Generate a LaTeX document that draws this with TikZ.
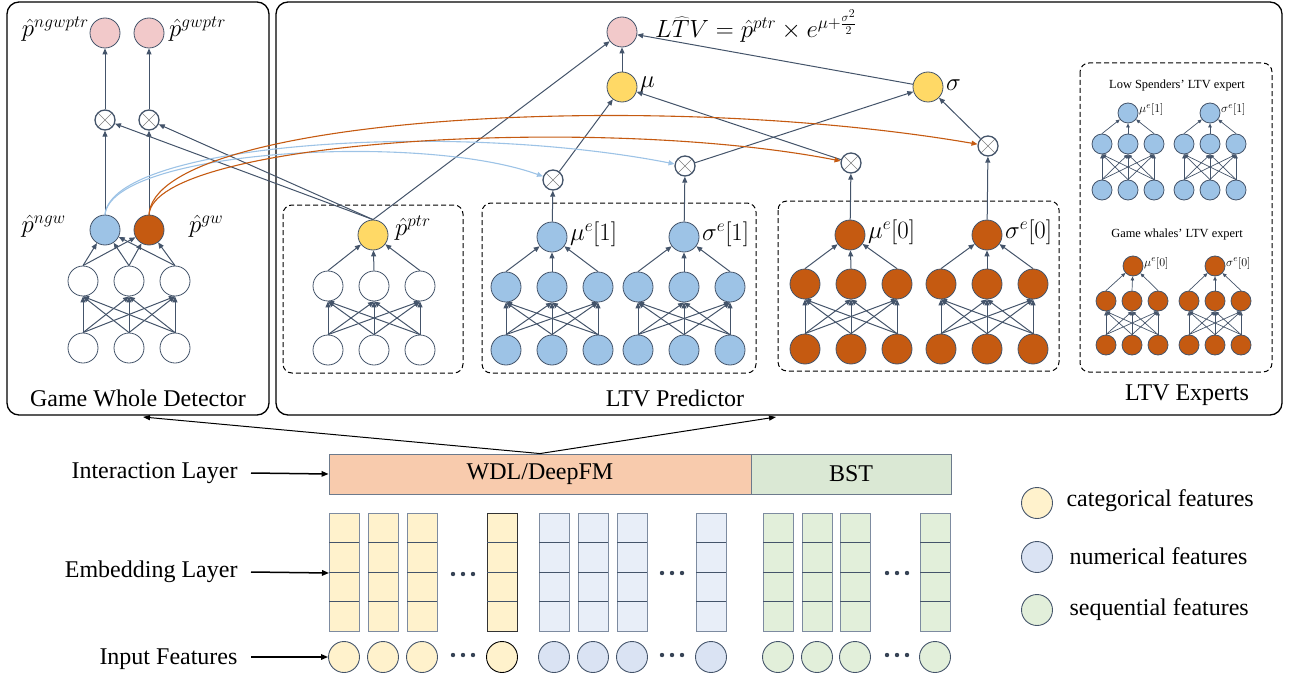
\documentclass[tikz,border=0pt]{standalone}
\usepackage{fontspec}
\setmainfont{Liberation Serif}
\usetikzlibrary{arrows.meta}
\definecolor{edge}{HTML}{44546A}
\definecolor{nblue}{HTML}{9DC3E6}
\definecolor{norange}{HTML}{C55A11}
\definecolor{nyellow}{HTML}{FFD966}
\definecolor{npink}{HTML}{F2C9CA}
\definecolor{catf}{HTML}{FFF2CC}
\definecolor{numf}{HTML}{E8EEF8}
\definecolor{numc}{HTML}{DAE3F3}
\definecolor{seqf}{HTML}{E2EFDA}
\definecolor{ibar}{HTML}{F8CBAD}
\definecolor{gbar}{HTML}{DAE8D4}
\definecolor{colline}{HTML}{7D8BA0}
\definecolor{barline}{HTML}{6C7A8C}

\newcommand\mlpnet[6]{% prefix, cx, hidden y, input y, style, spacing
  \foreach \k/\d in {1/-1,2/0,3/1}{
    \pgfmathsetmacro\xx{#2+\d*#6}
    \node[#5] (#1h\k) at (\xx,#3) {};
    \node[#5] (#1i\k) at (\xx,#4) {};
  }
}
\newcommand\mlpedges[3]{% prefix, output node, arrow style
  \foreach \a in {1,2,3}{
    \draw[#3] (#1h\a.north) -- (#2);
    \foreach \b in {1,2,3}{\draw[#3] (#1i\a.north) -- (#1h\b.south);}
  }
}
\newcommand\embcol[3]{% x left, fill, border
  \draw[draw=#3, line width=0.9pt, fill=#2] (#1,513) rectangle (#1+30,631);
  \foreach \yy in {542.5,572,601.5}{\draw[draw=edge, line width=0.8pt] (#1,\yy) -- (#1+30,\yy);}
}
\newcommand\threedots[2]{%
  \foreach \dd in {-10,0,10}{\fill[edge!80!black] (#1+\dd,#2) circle (2.2pt);}
}

\begin{document}
\begin{tikzpicture}[x=1pt,y=-1pt,
  font=\fontsize{24}{28}\selectfont,
  arr/.style={draw=edge, line width=1pt, -{Triangle[length=6pt,width=5pt]}},
  sarr/.style={draw=edge, line width=0.7pt, -{Triangle[length=4pt,width=3.5pt]}},
  neu/.style={circle, draw=edge, line width=0.8pt, minimum size=30pt, inner sep=0pt},
  whitenode/.style={neu, fill=white},
  bluenode/.style={neu, fill=nblue},
  orangenode/.style={neu, fill=norange},
  yellownode/.style={neu, fill=nyellow},
  pinknode/.style={neu, fill=npink},
  sblue/.style={bluenode, minimum size=20pt},
  sorange/.style={orangenode, minimum size=20pt},
  otimes/.style={circle, draw=edge, line width=1.3pt, fill=white, minimum size=20pt, inner sep=0pt,
    path picture={\draw[gray, line width=0.5pt] (path picture bounding box.south west) -- (path picture bounding box.north east) (path picture bounding box.north west) -- (path picture bounding box.south east);}},
  panel/.style={draw=black, line width=1.3pt, rounded corners=12pt},
  dbox/.style={draw=black, line width=1pt, dash pattern=on 5pt off 3pt, rounded corners=9pt},
  lbcurve/.style={draw=nblue, line width=1.1pt, -{Triangle[length=6pt,width=5pt]}},
  orcurve/.style={draw=norange, line width=1.1pt, -{Triangle[length=6pt,width=5pt]}},
  blackarr/.style={draw=black, line width=1.5pt, -{Triangle[length=7pt,width=5.5pt]}},
  panelarr/.style={draw=black, line width=1pt, -{Triangle[length=7pt,width=5pt]}},
  bar/.style={draw=barline, line width=0.9pt, inner sep=0pt, minimum height=40pt},
  incirc/.style={circle, draw=edge, line width=0.9pt, minimum size=31pt, inner sep=0pt},
  smalltxt/.style={font=\fontsize{12.4}{14}\selectfont},
]
\useasboundingbox (0,0) rectangle (1289,682);

% ---------- panels ----------
\draw[panel] (7,2) rectangle (269,415);
\draw[panel] (276,2) rectangle (1282,415);
\node at (138,398) {Game Whole Detector};
\node at (675,398) {LTV Predictor};
\node at (1187,395) {LTV Experts};

% ---------- left panel ----------
\node[pinknode] (pngw) at (105,33) {};
\node[pinknode] (pgw) at (149,33) {};
\node[anchor=east, inner sep=1pt] (lpngw) at (90,29) {$\hat p^{ngwptr}$};
\node[anchor=west, inner sep=1pt] (lpgw) at (168,29) {$\hat p^{gwptr}$};
\node[otimes] (x1) at (105,120) {};
\node[otimes] (x2) at (149,120) {};
\node[bluenode] (bgw) at (105,230) {};
\node[orangenode] (ogw) at (149,230) {};
\node[anchor=east, inner sep=1pt] (lngw) at (67,226) {$\hat p^{ngw}$};
\node[anchor=west, inner sep=1pt] (lgw) at (188,226) {$\hat p^{gw}$};
\mlpnet{g}{129}{281}{348}{whitenode}{46}
\mlpedges{g}{bgw}{arr}
\foreach \a in {1,2,3}{\draw[arr] (gh\a.north) -- (ogw);}
\draw[arr] (bgw) -- (x1);
\draw[arr] (x1) -- (pngw);
\draw[arr] (ogw) -- (x2);
\draw[arr] (x2) -- (pgw);

% ---------- LTV predictor ----------
\node[pinknode] (ltv) at (622,32) {};
\node[anchor=west, inner sep=1pt] (formula) at (654,26) {$\widehat{LTV} = \hat p^{ptr}\times e^{\mu+\frac{\sigma^2}{2}}$};
\node[yellownode] (mu) at (622,87) {};
\node[anchor=west, inner sep=1pt] (lmu) at (639,85) {$\mu$};
\node[yellownode] (sigma) at (928,87) {};
\node[anchor=west, inner sep=1pt] (lsigma) at (945,85) {$\sigma$};

% ptr box
\draw[dbox] (283,205) rectangle (463,373);
\node[yellownode] (ptr) at (373,235) {};
\node[anchor=west, inner sep=1pt] (lptr) at (394,228) {$\hat p^{ptr}$};
\mlpnet{p}{374}{286}{350}{whitenode}{46}
\mlpedges{p}{ptr}{arr}

% blue expert box
\draw[dbox] (482,203) rectangle (756,373);
\node[bluenode] (mu1) at (552,237) {};
\node[anchor=west, inner sep=1pt] (lmu1) at (569,234) {$\mu^e[1]$};
\mlpnet{a}{552}{287}{350}{bluenode}{46}
\mlpedges{a}{mu1}{arr}
\node[bluenode] (sig1) at (684,237) {};
\node[anchor=west, inner sep=1pt] (lsig1) at (701,234) {$\sigma^e[1]$};
\mlpnet{b}{684}{287}{350}{bluenode}{46}
\mlpedges{b}{sig1}{arr}

% orange expert box
\draw[dbox] (778,201) rectangle (1059,371);
\node[orangenode] (mu0) at (850,235) {};
\node[anchor=west, inner sep=1pt] (lmu0) at (867,232) {$\mu^e[0]$};
\mlpnet{c}{851}{284}{349}{orangenode}{46}
\mlpedges{c}{mu0}{arr}
\node[orangenode] (sig0) at (987,235) {};
\node[anchor=west, inner sep=1pt] (lsig0) at (1004,232) {$\sigma^e[0]$};
\mlpnet{d}{987}{284}{349}{orangenode}{46}
\mlpedges{d}{sig0}{arr}

% otimes
\node[otimes] (mu1x) at (553,180) {};
\node[otimes] (sig1x) at (685,166) {};
\node[otimes] (mu0x) at (851,163) {};
\node[otimes] (sig0x) at (988,146) {};
\draw[arr] (mu1) -- (mu1x);
\draw[arr] (sig1) -- (sig1x);
\draw[arr] (mu0) -- (mu0x);
\draw[arr] (sig0) -- (sig0x);
\draw[arr] (mu1x) -- (mu);
\draw[arr] (mu0x) -- (mu);
\draw[arr] (sig1x) -- (sigma);
\draw[arr] (sig0x) -- (sigma);
\draw[arr] (mu) -- (ltv);
\draw[arr] (sigma) -- (ltv);
\draw[arr] (ptr.north) -- (ltv);
\draw[arr] (ptr.north) -- (x1);
\draw[arr] (ptr.north) -- (x2);

% curves
\draw[lbcurve] (bgw.north) .. controls (112,150) and (420,132) .. (mu1x);
\draw[lbcurve] (bgw.north) .. controls (112,143) and (450,120) .. (sig1x);
\draw[orcurve] (ogw.north) .. controls (155,140) and (600,114) .. (mu0x);
\draw[orcurve] (ogw.north) .. controls (155,117) and (650,88) .. (sig0x);

% ---------- LTV experts ----------
\draw[dbox] (1080,63) rectangle (1272,372);
\node[smalltxt] (t1) at (1177,86) {Low Spenders' LTV expert};
\node[smalltxt] (t2) at (1177,235) {Game whales' LTV expert};
\node[sblue] (emu1) at (1128,113) {};
\node[smalltxt, anchor=west, inner sep=1pt] (lemu1) at (1138,110) {$\mu^e[1]$};
\mlpnet{e}{1128}{144}{190}{sblue}{26}
\mlpedges{e}{emu1}{sarr}
\node[sblue] (esig1) at (1210,113) {};
\node[smalltxt, anchor=west, inner sep=1pt] (lesig1) at (1220,110) {$\sigma^e[1]$};
\mlpnet{f}{1210}{144}{190}{sblue}{26}
\mlpedges{f}{esig1}{sarr}
\node[sorange] (emu0) at (1133,266) {};
\node[smalltxt, anchor=west, inner sep=1pt] (lemu0) at (1143,263) {$\mu^e[0]$};
\mlpnet{k}{1132}{301}{345}{sorange}{26}
\mlpedges{k}{emu0}{sarr}
\node[sorange] (esig0) at (1215,266) {};
\node[smalltxt, anchor=west, inner sep=1pt] (lesig0) at (1225,263) {$\sigma^e[0]$};
\mlpnet{m}{1215}{301}{345}{sorange}{26}
\mlpedges{m}{esig0}{sarr}

% ---------- bottom ----------
\node[bar, fill=ibar, minimum width=422pt] (wdl) at (540,474) {};
\node (wdltxt) at (540,474) {WDL/DeepFM};
\node[bar, fill=gbar, minimum width=200pt] (bst) at (851,474) {BST};
\coordinate (gwdb) at (143,417);
\coordinate (ltvb) at (776,417);
\draw[panelarr] (wdl.north) -- (gwdb);
\draw[panelarr] (wdl.north) -- (ltvb);

% embedding columns
\foreach \x in {329,368,407}{\embcol{\x}{catf}{colline}}
\embcol{487}{catf}{black!80}
\foreach \x in {539,578,617,696}{\embcol{\x}{numf}{colline}}
\foreach \x in {763,802,840,920}{\embcol{\x}{seqf}{colline}}
\threedots{463}{574}
\threedots{672}{573}
\threedots{897}{573}

% input circles
\foreach \x [count=\i] in {344,383,422}{\node[incirc, fill=catf] (cat\i) at (\x,657) {};}
\node[incirc, fill=catf, draw=black] (cat4) at (502,657) {};
\foreach \x [count=\i] in {554,593,632,711}{\node[incirc, fill=numc] (num\i) at (\x,657) {};}
\foreach \x [count=\i] in {778,817,855,935}{\node[incirc, fill=seqf] (seq\i) at (\x,657) {};}
\threedots{463}{655}
\threedots{672}{655}
\threedots{897}{655}

% layer labels
\node[anchor=east] (linter) at (241,473) {Interaction Layer};
\node[anchor=east] (lemb) at (241,572) {Embedding Layer};
\node[anchor=east] (linput) at (241,659) {Input Features};
\coordinate (embt) at (329,573);
\draw[blackarr] ([xshift=10pt]linter.east) -- (wdl.west);
\draw[blackarr] ([xshift=10pt]lemb.east) -- (embt);
\draw[blackarr] ([xshift=10pt]linput.east |- cat1.west) -- (cat1.west);

% legend
\node[incirc, fill=catf] (lg1) at (1037,503) {};
\node[anchor=west] (lgt1) at (1063,501) {categorical features};
\node[incirc, fill=numc] (lg2) at (1037,557) {};
\node[anchor=west] (lgt2) at (1066,556) {numerical features};
\node[incirc, fill=seqf] (lg3) at (1037,610) {};
\node[anchor=west] (lgt3) at (1066,610) {sequential features};
\end{tikzpicture}
\end{document}
